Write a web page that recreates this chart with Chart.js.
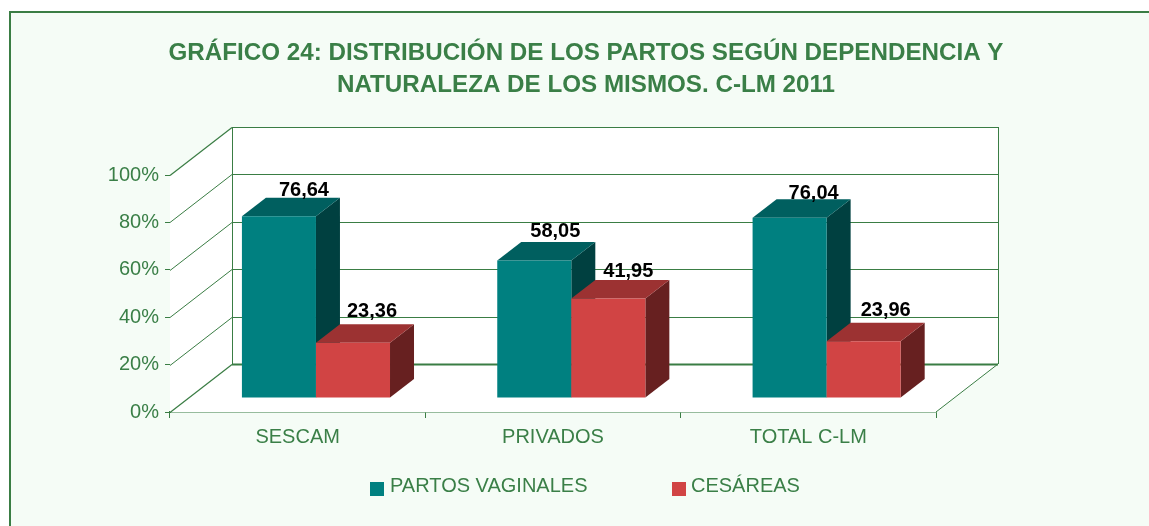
<!DOCTYPE html>
<html>
<head>
<meta charset="utf-8">
<style>
html,body{margin:0;padding:0;background:#fff;width:1149px;height:526px;overflow:hidden}
#frame{position:absolute;left:9px;top:11px;right:0;bottom:0;border-left:2px solid #3A7D44;border-top:2px solid #3A7D44;background:#F5FCF6}
canvas{position:absolute;left:0;top:0}
</style>
<script src="https://cdn.jsdelivr.net/npm/chart.js@4"></script>
</head>
<body>
<div id="frame"></div>
<canvas id="c" width="1149" height="526"></canvas>
<script>
const categories = ["SESCAM", "PRIVADOS", "TOTAL C-LM"];
const partosVaginales = [76.64, 58.05, 76.04];
const cesareas = [23.36, 41.95, 23.96];
const seriesNames = ["PARTOS VAGINALES", "CESÁREAS"];
const titleLines = ["GRÁFICO 24: DISTRIBUCIÓN DE LOS PARTOS SEGÚN DEPENDENCIA Y", "NATURALEZA DE LOS MISMOS. C-LM 2011"];

const FONT = '"Liberation Sans", Arial, sans-serif';
const GREEN = '#3A7D44', TEXT = '#3A7F47';
const WALL = {dx: 62, dy: -48};          // depth of the box
const BAR = {dx: 24, dy: -18.5, ox: 18.3, oy: -14}; // depth of the bars and their place on the floor
const COLORS = [
  {front:'#008080', top:'#005F5F', side:'#004040'},
  {front:'#D14444', top:'#9C3232', side:'#672020'}
];
// small per-label corrections of the value label position [dx, dy]
const LABEL_NUDGE = [
  [[4, 2], [0, -1], [3, 4]],
  [[-2, -3], [-1, 1], [1, -3]]
];

const box3d = {
  id: 'box3d',
  afterLayout(chart) {
    const t = chart.titleBlock;
    t.left += 118; t.right += 118;
  },
  beforeDatasetsDraw(chart) {
    const {ctx, chartArea: a, scales: {y}} = chart;
    const {dx, dy} = WALL;
    const L = a.left, R = a.right, B = a.bottom, T = a.top;
    ctx.save();
    ctx.fillStyle = '#fff';
    ctx.beginPath();
    ctx.moveTo(L, B); ctx.lineTo(L, T); ctx.lineTo(L + dx, T + dy);
    ctx.lineTo(R + dx, T + dy); ctx.lineTo(R + dx, B + dy); ctx.lineTo(R, B);
    ctx.closePath(); ctx.fill();
    ctx.strokeStyle = GREEN;
    const line = (x1, y1, x2, y2, w) => {
      ctx.lineWidth = w; ctx.beginPath(); ctx.moveTo(x1, y1); ctx.lineTo(x2, y2); ctx.stroke();
    };
    y.ticks.forEach(tk => {
      const py = Math.round(y.getPixelForValue(tk.value)) + 0.5;
      const base = tk.value === 0;
      line(L, py, L + dx, py + dy, base || tk.value === 100 ? 1.2 : 1);
      line(L + dx, py + dy, R + dx, py + dy, base ? 2 : 1);
    });
    line(L + dx + .5, T + dy, L + dx + .5, B + dy, 1);
    line(R + dx + .5, T + dy, R + dx + .5, B + dy, 1);
    line(R, B, R + dx, B + dy, 1);
    ctx.restore();
  },
  beforeDatasetDraw() { return false; },
  afterDatasetsDraw(chart) {
    const ctx = chart.ctx;
    [0, 1].forEach(i => {
      const meta = chart.getDatasetMeta(i), c = COLORS[i];
      ctx.save();
      ctx.translate(BAR.ox, BAR.oy);
      meta.data.forEach(b => {
        const l = b.x - b.width / 2, r = b.x + b.width / 2;
        ctx.fillStyle = c.side;
        ctx.beginPath();
        ctx.moveTo(r, b.y); ctx.lineTo(r + BAR.dx, b.y + BAR.dy);
        ctx.lineTo(r + BAR.dx, b.base + BAR.dy); ctx.lineTo(r, b.base);
        ctx.closePath(); ctx.fill();
        ctx.fillStyle = c.top;
        ctx.beginPath();
        ctx.moveTo(l, b.y); ctx.lineTo(l + BAR.dx, b.y + BAR.dy);
        ctx.lineTo(r + BAR.dx, b.y + BAR.dy); ctx.lineTo(r, b.y);
        ctx.closePath(); ctx.fill();
      });
      meta.controller.draw();
      ctx.restore();
    });
    // value labels
    ctx.save();
    ctx.font = 'bold 20px ' + FONT;
    ctx.fillStyle = '#000';
    ctx.textAlign = 'center';
    ctx.textBaseline = 'middle';
    [0, 1].forEach(i => {
      chart.getDatasetMeta(i).data.forEach((b, k) => {
        const v = chart.data.datasets[i].data[k];
        const n = LABEL_NUDGE[i][k];
        ctx.fillText(v.toFixed(2).replace('.', ','), b.x + BAR.ox + 21 + n[0], b.y + BAR.oy - 28 + n[1]);
      });
    });
    ctx.restore();
    // legend
    ctx.save();
    ctx.font = '20px ' + FONT;
    ctx.textBaseline = 'middle';
    ctx.textAlign = 'left';
    [370, 672].forEach((x, i) => {
      ctx.fillStyle = COLORS[i].front;
      ctx.fillRect(x, 482, 14, 14);
      ctx.fillStyle = TEXT;
      ctx.fillText(chart.data.datasets[i].label, x + (i ? 19 : 20), 486);
    });
    ctx.restore();
  }
};

new Chart(document.getElementById('c'), {
  type: 'bar',
  data: {
    labels: categories,
    datasets: [
      {label: seriesNames[0], data: partosVaginales, backgroundColor: COLORS[0].front, clip: false},
      {label: seriesNames[1], data: cesareas, backgroundColor: COLORS[1].front, clip: false}
    ]
  },
  options: {
    responsive: false,
    animation: false,
    layout: {padding: {left: 0, right: 213, top: 0, bottom: 0}},
    datasets: {bar: {categoryPercentage: 0.58, barPercentage: 1, borderWidth: 0}},
    plugins: {
      legend: {display: false},
      tooltip: {enabled: false},
      title: {
        display: true,
        text: titleLines,
        color: TEXT,
        font: {family: FONT, size: 24.2, weight: 'bold', lineHeight: 32 / 24.2},
        padding: {top: 37, bottom: 74}
      }
    },
    scales: {
      x: {
        afterFit(s) { s.height = 114; },
        border: {color: GREEN, width: 1.5},
        grid: {drawOnChartArea: false, drawTicks: true, tickLength: 6, tickColor: GREEN},
        ticks: {color: TEXT, font: {family: FONT, size: 20}, padding: 7, maxRotation: 0}
      },
      y: {
        min: 0, max: 100,
        afterFit(s) { s.width = 170; },
        border: {color: GREEN, width: 1},
        grid: {drawOnChartArea: false, drawTicks: true, tickLength: 5, tickColor: GREEN},
        ticks: {stepSize: 20, color: TEXT, font: {family: FONT, size: 20}, padding: 6, callback: v => v + '%'}
      }
    }
  },
  plugins: [box3d]
});
</script>
</body>
</html>
